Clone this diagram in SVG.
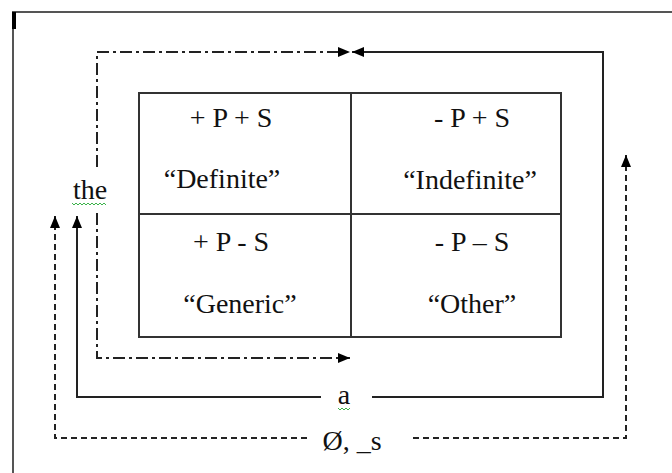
<svg xmlns="http://www.w3.org/2000/svg" width="672" height="473" viewBox="0 0 672 473">
  <style>
    .lbl { font-family: "Liberation Serif", "Times New Roman", serif; font-size: 28px; fill: #111; text-anchor: middle; }
    .grid { fill: none; stroke: #333; stroke-width: 2; }
    .frame { fill: none; stroke: #555; stroke-width: 2; }
    .solid { fill: none; stroke: #222; stroke-width: 2; }
    .dashdot { fill: none; stroke: #222; stroke-width: 2; stroke-dasharray: 12 4 3 4; }
    .dashed { fill: none; stroke: #222; stroke-width: 2; stroke-dasharray: 6 4; }
    .squiggle { fill: none; stroke: #3bb34a; stroke-width: 1; }
  </style>
  <defs>
    <marker id="head" viewBox="0 0 12 10" refX="12" refY="5" markerWidth="12" markerHeight="10" markerUnits="userSpaceOnUse" orient="auto">
      <path d="M0,0 L12,5 L0,10 Z" fill="#000"/>
    </marker>
  </defs>

  <!-- page frame -->
  <g id="frame">
    <path class="frame" d="M13,473 V12 H672"/>
    <rect x="12" y="12" width="4" height="17" fill="#000"/>
  </g>

  <!-- 2x2 feature table -->
  <g id="table">
    <rect class="grid" x="139" y="93" width="422" height="244"/>
    <line class="grid" x1="351" y1="93" x2="351" y2="337"/>
    <line class="grid" x1="139" y1="214" x2="561" y2="214"/>
  </g>

  <g id="cell-definite">
    <text class="lbl" x="231" y="127">+ P + S</text>
    <text class="lbl" x="222" y="188">“Definite”</text>
  </g>
  <g id="cell-indefinite">
    <text class="lbl" x="472" y="127">- P + S</text>
    <text class="lbl" x="470" y="189">“Indefinite”</text>
  </g>
  <g id="cell-generic">
    <text class="lbl" x="231" y="251">+ P - S</text>
    <text class="lbl" x="240" y="313">“Generic”</text>
  </g>
  <g id="cell-other">
    <text class="lbl" x="472" y="251">- P – S</text>
    <text class="lbl" x="472" y="313">“Other”</text>
  </g>

  <!-- article labels -->
  <g id="label-the">
    <text class="lbl" x="90" y="199">the</text>
    <path class="squiggle" d="M72,203 l2,2 l2,-2 l2,2 l2,-2 l2,2 l2,-2 l2,2 l2,-2 l2,2 l2,-2 l2,2 l2,-2 l2,2 l2,-2 l2,2 l2,-2 l2,2"/>
  </g>
  <g id="label-a">
    <text class="lbl" x="344" y="404">a</text>
    <path class="squiggle" d="M338,408 l2,2 l2,-2 l2,2 l2,-2 l2,2 l2,-2"/>
  </g>
  <g id="label-zero">
    <text class="lbl" x="352" y="450">Ø, _s</text>
  </g>

  <!-- connectors -->
  <g id="connectors">
    <!-- "the": dash-dot loops -->
    <path class="dashdot" d="M97,167 V52 H350" marker-end="url(#head)"/>
    <path class="dashdot" d="M97,213 V358 H350" marker-end="url(#head)"/>
    <!-- "a": solid loop -->
    <path class="solid" d="M372,397 H603 V52 H352" marker-end="url(#head)"/>
    <path class="solid" d="M321,397 H77 V216" marker-end="url(#head)"/>
    <!-- "Ø, _s": dashed loop -->
    <path class="dashed" d="M413,438 H626 V155" marker-end="url(#head)"/>
    <path class="dashed" d="M307,438 H55 V216" marker-end="url(#head)"/>
  </g>
</svg>
